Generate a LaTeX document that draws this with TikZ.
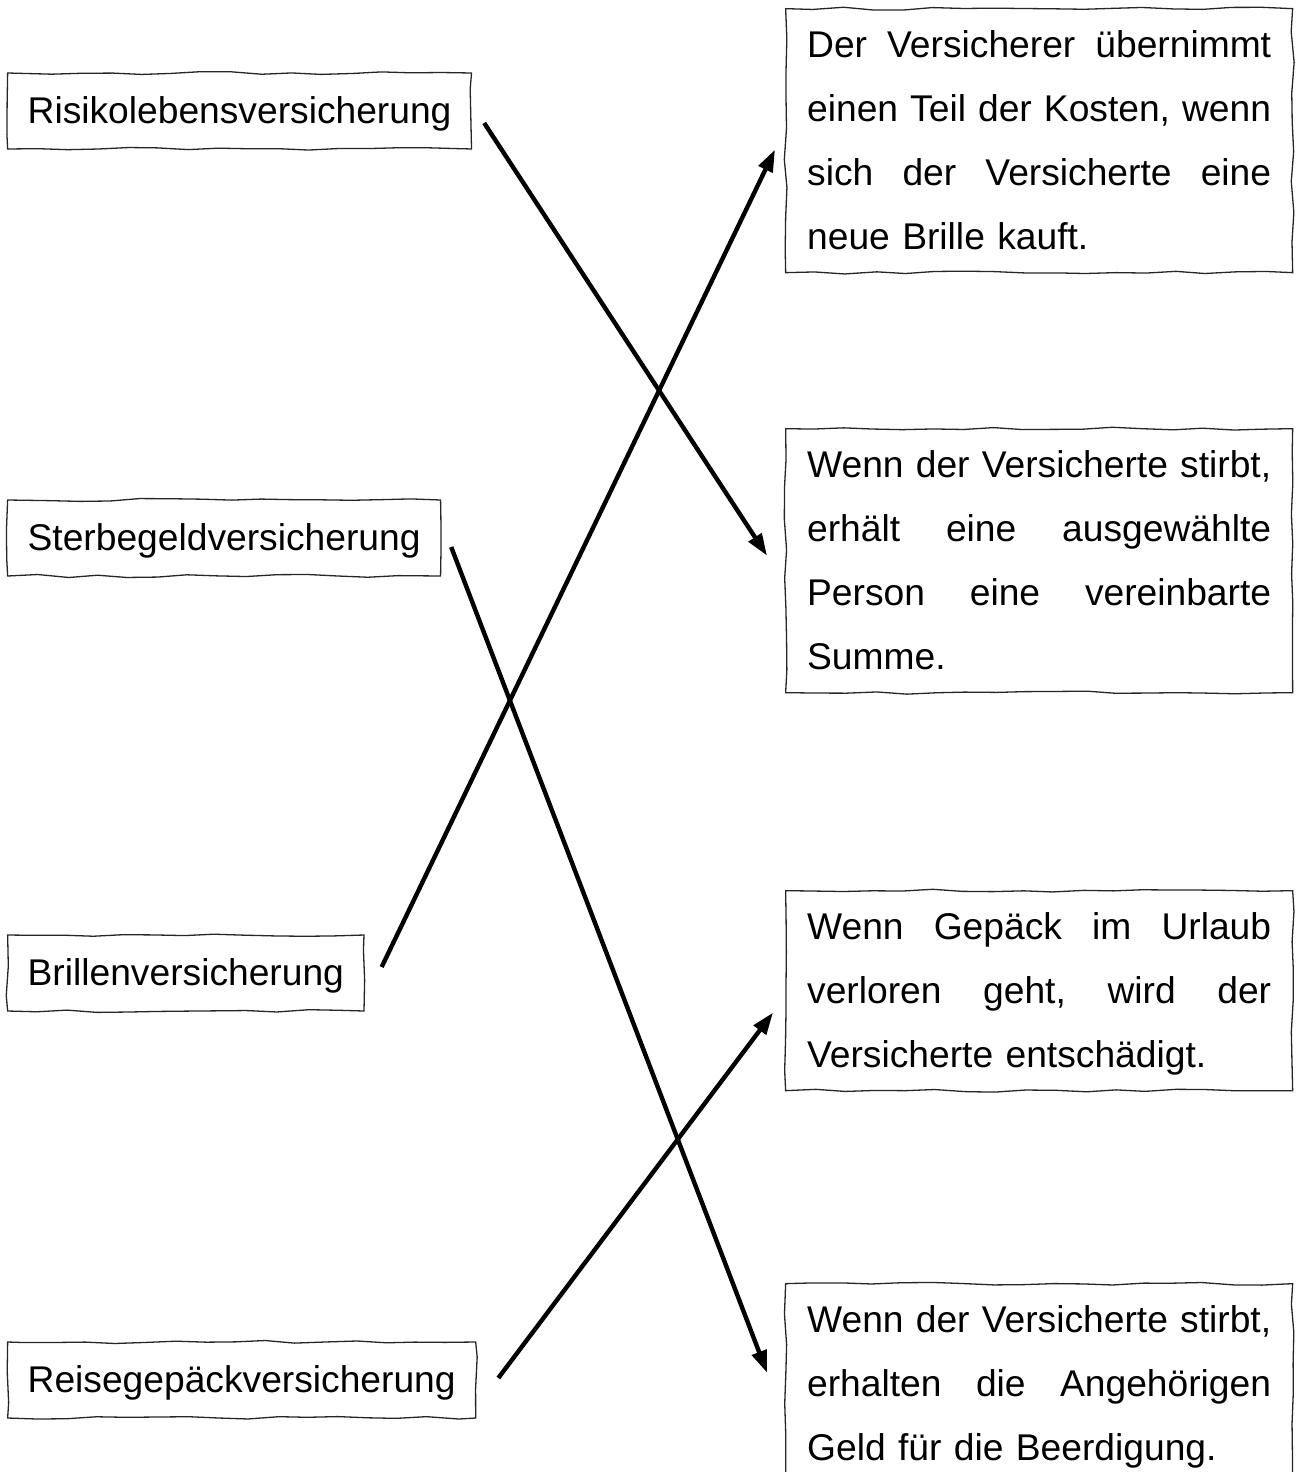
\documentclass[tikz,border=0pt]{standalone}
\usepackage{fontspec}
\setmainfont{Liberation Sans}
\usetikzlibrary{decorations.pathmorphing,arrows.meta,calc}
\tikzset{
  hand/.style={draw=black!85, line width=1.3pt, decorate,
    decoration={random steps, segment length=30pt, amplitude=1.5pt}},
  term/.style={hand, anchor=west, inner xsep=20pt, inner ysep=6pt,
    font=\fontsize{37.2}{64}\selectfont},
  desc/.style={hand, anchor=north west, inner xsep=21.5pt, inner ysep=4pt,
    text width=464pt, align=left, font=\fontsize{37.2}{64}\selectfont},
  arr/.style={line width=4.4pt, -{Triangle[length=22pt,width=15pt]}}
}
\newcommand{\jl}[1]{\strut\hbox to 464pt{#1}}
\begin{document}
\begin{tikzpicture}[x=1pt,y=-1pt]
\pgfmathsetseed{7}
\useasboundingbox (0,0) rectangle (1296,1472);
% left terms
\node[term] (r1) at (7,111) {\strut Risikolebensversicherung};
\node[term] (s1) at (7,538) {\strut Sterbegeldversicherung};
\node[term] (br) at (7,973) {\strut Brillenversicherung};
\node[term] (rg) at (7,1380) {\strut Reisegepäckversicherung};
% right descriptions
\node[desc] (b1) at (785,8) {\jl{Der\hfill Versicherer\hfill übernimmt}\\
  \jl{einen\hfill Teil\hfill der\hfill Kosten,\hfill wenn}\\
  \jl{sich\hfill der\hfill Versicherte\hfill eine}\\
  \strut neue Brille kauft.};
\node[desc] (b2) at (785,428) {\jl{Wenn\hfill der\hfill Versicherte\hfill stirbt,}\\
  \jl{erhält\hfill eine\hfill ausgewählte}\\
  \jl{Person\hfill eine\hfill vereinbarte}\\
  \strut Summe.};
\node[desc] (b3) at (785,890) {\jl{Wenn\hfill Gepäck\hfill im\hfill Urlaub}\\
  \jl{verloren\hfill geht,\hfill wird\hfill der}\\
  \strut Versicherte entschädigt.};
\node[desc] (b4) at (785,1283) {\jl{Wenn\hfill der\hfill Versicherte\hfill stirbt,}\\
  \jl{erhalten\hfill die\hfill Angehörigen}\\
  \strut Geld für die Beerdigung.};
% connectors
\draw[arr] ($(r1.east)+(12,12)$) -- ($(b2.west)+(-18,-5)$);
\draw[arr] ($(s1.east)+(10,9)$) -- ($(b4.west)+(-18,-11)$);
\draw[arr] ($(br.east)+(17,-6)$) -- ($(b1.west)+(-10,9)$);
\draw[arr] ($(rg.east)+(22,-2)$) -- ($(b3.west)+(-12,22)$);
\end{tikzpicture}
\end{document}
